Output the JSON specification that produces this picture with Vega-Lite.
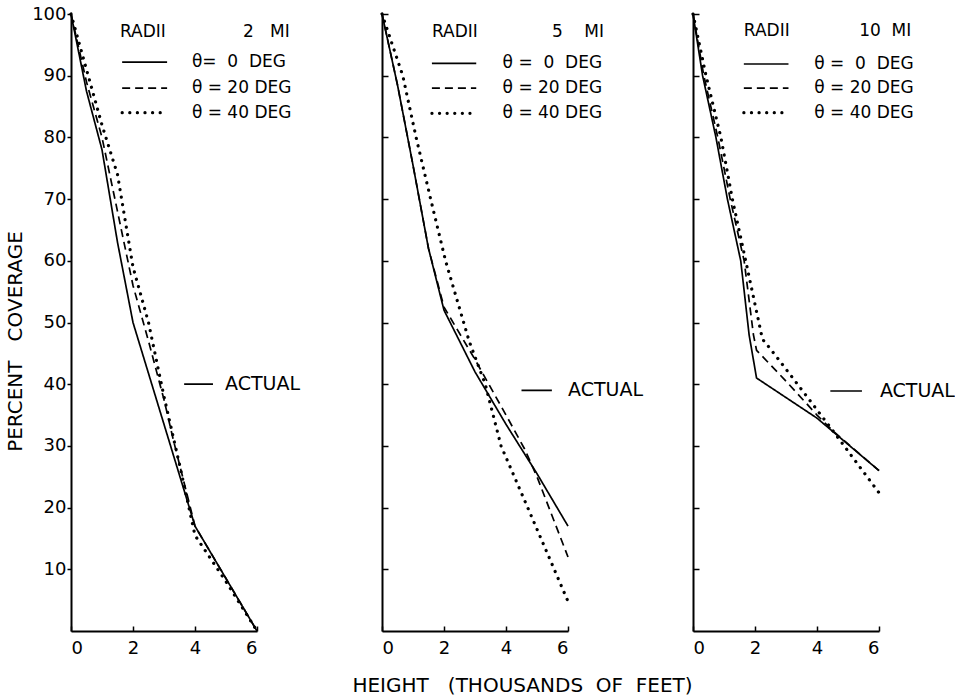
{
  "$schema": "https://vega.github.io/schema/vega-lite/v6.json",
  "padding": {"left": 5, "top": 5, "right": 0, "bottom": 5},
  "background": "white",
  "config": {
    "view": {"stroke": null},
    "font": "DejaVu Sans",
    "axis": {
      "domainColor": "black", "domainWidth": 2, "tickColor": "black", "tickWidth": 1.5,
      "labelColor": "black", "titleColor": "black", "grid": false,
      "labelFont": "DejaVu Sans", "titleFont": "DejaVu Sans", "titleFontWeight": "normal",
      "labelFontSize": 18
    }
  },
  "datasets": {
    "curves": [
      {"panel": 1, "s": "0", "d": 0, "v": 100}, {"panel": 1, "s": "0", "d": 0.5, "v": 87.5}, {"panel": 1, "s": "0", "d": 1, "v": 78}, {"panel": 1, "s": "0", "d": 1.5, "v": 63}, {"panel": 1, "s": "0", "d": 2, "v": 50}, {"panel": 1, "s": "0", "d": 4, "v": 17}, {"panel": 1, "s": "0", "d": 6, "v": 0},
      {"panel": 1, "s": "20", "d": 0, "v": 100}, {"panel": 1, "s": "20", "d": 0.5, "v": 89}, {"panel": 1, "s": "20", "d": 1, "v": 80}, {"panel": 1, "s": "20", "d": 1.5, "v": 68}, {"panel": 1, "s": "20", "d": 2, "v": 56}, {"panel": 1, "s": "20", "d": 2.5, "v": 47}, {"panel": 1, "s": "20", "d": 3, "v": 37.5}, {"panel": 1, "s": "20", "d": 3.3, "v": 31}, {"panel": 1, "s": "20", "d": 4, "v": 17}, {"panel": 1, "s": "20", "d": 5, "v": 8.5}, {"panel": 1, "s": "20", "d": 6, "v": 0},
      {"panel": 1, "s": "40", "d": 0, "v": 100}, {"panel": 1, "s": "40", "d": 0.5, "v": 91}, {"panel": 1, "s": "40", "d": 1, "v": 82}, {"panel": 1, "s": "40", "d": 1.5, "v": 74}, {"panel": 1, "s": "40", "d": 2, "v": 59}, {"panel": 1, "s": "40", "d": 2.5, "v": 50}, {"panel": 1, "s": "40", "d": 3, "v": 38}, {"panel": 1, "s": "40", "d": 3.5, "v": 27}, {"panel": 1, "s": "40", "d": 4, "v": 15.5}, {"panel": 1, "s": "40", "d": 5, "v": 8}, {"panel": 1, "s": "40", "d": 6, "v": 0},
      {"panel": 2, "s": "0", "d": 0, "v": 100}, {"panel": 2, "s": "0", "d": 0.5, "v": 88.5}, {"panel": 2, "s": "0", "d": 1, "v": 75.5}, {"panel": 2, "s": "0", "d": 1.5, "v": 62}, {"panel": 2, "s": "0", "d": 2, "v": 52}, {"panel": 2, "s": "0", "d": 3, "v": 42}, {"panel": 2, "s": "0", "d": 4, "v": 33.5}, {"panel": 2, "s": "0", "d": 5, "v": 25.5}, {"panel": 2, "s": "0", "d": 6, "v": 17},
      {"panel": 2, "s": "20", "d": 0, "v": 100}, {"panel": 2, "s": "20", "d": 0.5, "v": 88.5}, {"panel": 2, "s": "20", "d": 1, "v": 75.5}, {"panel": 2, "s": "20", "d": 1.5, "v": 62}, {"panel": 2, "s": "20", "d": 2, "v": 52.5}, {"panel": 2, "s": "20", "d": 3, "v": 44}, {"panel": 2, "s": "20", "d": 4, "v": 35}, {"panel": 2, "s": "20", "d": 4.6, "v": 29.5}, {"panel": 2, "s": "20", "d": 5, "v": 25}, {"panel": 2, "s": "20", "d": 6, "v": 12},
      {"panel": 2, "s": "40", "d": 0, "v": 100}, {"panel": 2, "s": "40", "d": 0.67, "v": 90}, {"panel": 2, "s": "40", "d": 1.1, "v": 80}, {"panel": 2, "s": "40", "d": 1.57, "v": 70}, {"panel": 2, "s": "40", "d": 2.05, "v": 60}, {"panel": 2, "s": "40", "d": 2.81, "v": 47}, {"panel": 2, "s": "40", "d": 3.33, "v": 40}, {"panel": 2, "s": "40", "d": 3.84, "v": 30}, {"panel": 2, "s": "40", "d": 4.7, "v": 20}, {"panel": 2, "s": "40", "d": 6, "v": 4.8},
      {"panel": 3, "s": "0", "d": 0, "v": 100}, {"panel": 3, "s": "0", "d": 0.31, "v": 90}, {"panel": 3, "s": "0", "d": 0.74, "v": 80}, {"panel": 3, "s": "0", "d": 1.11, "v": 70}, {"panel": 3, "s": "0", "d": 1.54, "v": 60}, {"panel": 3, "s": "0", "d": 1.81, "v": 48}, {"panel": 3, "s": "0", "d": 2.05, "v": 41}, {"panel": 3, "s": "0", "d": 4, "v": 34.5}, {"panel": 3, "s": "0", "d": 6, "v": 26},
      {"panel": 3, "s": "20", "d": 0, "v": 100}, {"panel": 3, "s": "20", "d": 0.35, "v": 90}, {"panel": 3, "s": "20", "d": 0.8, "v": 80}, {"panel": 3, "s": "20", "d": 1.2, "v": 70}, {"panel": 3, "s": "20", "d": 1.65, "v": 60}, {"panel": 3, "s": "20", "d": 1.95, "v": 48}, {"panel": 3, "s": "20", "d": 2.05, "v": 45.5}, {"panel": 3, "s": "20", "d": 3, "v": 40.5}, {"panel": 3, "s": "20", "d": 4, "v": 35}, {"panel": 3, "s": "20", "d": 4.5, "v": 32.5}, {"panel": 3, "s": "20", "d": 6, "v": 26},
      {"panel": 3, "s": "40", "d": 0, "v": 100}, {"panel": 3, "s": "40", "d": 0.42, "v": 90}, {"panel": 3, "s": "40", "d": 0.9, "v": 80}, {"panel": 3, "s": "40", "d": 1.27, "v": 70}, {"panel": 3, "s": "40", "d": 1.7, "v": 60}, {"panel": 3, "s": "40", "d": 2.24, "v": 47.3}, {"panel": 3, "s": "40", "d": 2.5, "v": 45.7}, {"panel": 3, "s": "40", "d": 3.25, "v": 40.8}, {"panel": 3, "s": "40", "d": 4.52, "v": 32.4}, {"panel": 3, "s": "40", "d": 6, "v": 22.4}
    ],
    "keys": [
      {"panel": 1, "s": "0", "x1": 1.65, "x2": 3.1, "y": 92.2},
      {"panel": 1, "s": "20", "x1": 1.65, "x2": 3.1, "y": 88.0},
      {"panel": 1, "s": "40", "x1": 1.65, "x2": 3.1, "y": 84.0},
      {"panel": 1, "s": "0", "x1": 3.65, "x2": 4.58, "y": 40.0},
      {"panel": 2, "s": "0", "x1": 1.61, "x2": 3.04, "y": 92.0},
      {"panel": 2, "s": "20", "x1": 1.61, "x2": 3.04, "y": 88.0},
      {"panel": 2, "s": "40", "x1": 1.61, "x2": 3.04, "y": 83.9},
      {"panel": 2, "s": "0", "x1": 4.5, "x2": 5.48, "y": 39.0},
      {"panel": 3, "s": "0", "x1": 1.64, "x2": 3.08, "y": 91.9},
      {"panel": 3, "s": "20", "x1": 1.64, "x2": 3.08, "y": 88.0},
      {"panel": 3, "s": "40", "x1": 1.64, "x2": 3.08, "y": 84.0},
      {"panel": 3, "s": "0", "x1": 4.43, "x2": 5.45, "y": 38.9}
    ],
    "labels": [
      {"panel": 1, "x": 1.58, "y": 97.1, "t": "RADII"},
      {"panel": 1, "x": 5.55, "y": 97.1, "t": "2\u00a0\u00a0\u00a0MI"},
      {"panel": 1, "x": 3.9, "y": 92.2, "t": "θ=\u00a0\u00a00\u00a0\u00a0DEG"},
      {"panel": 1, "x": 3.9, "y": 88.0, "t": "θ\u00a0=\u00a020\u00a0DEG"},
      {"panel": 1, "x": 3.9, "y": 84.0, "t": "θ\u00a0=\u00a040\u00a0DEG"},
      {"panel": 2, "x": 1.61, "y": 97.1, "t": "RADII"},
      {"panel": 2, "x": 5.48, "y": 97.1, "t": "5\u00a0\u00a0\u00a0\u00a0MI"},
      {"panel": 2, "x": 3.89, "y": 92.0, "t": "θ\u00a0=\u00a0\u00a00\u00a0\u00a0DEG"},
      {"panel": 2, "x": 3.89, "y": 88.0, "t": "θ\u00a0=\u00a020\u00a0DEG"},
      {"panel": 2, "x": 3.89, "y": 83.9, "t": "θ\u00a0=\u00a040\u00a0DEG"},
      {"panel": 3, "x": 1.64, "y": 97.2, "t": "RADII"},
      {"panel": 3, "x": 5.36, "y": 97.2, "t": "10\u00a0\u00a0MI"},
      {"panel": 3, "x": 3.91, "y": 91.9, "t": "θ\u00a0=\u00a0\u00a00\u00a0\u00a0DEG"},
      {"panel": 3, "x": 3.91, "y": 88.0, "t": "θ\u00a0=\u00a020\u00a0DEG"},
      {"panel": 3, "x": 3.91, "y": 84.0, "t": "θ\u00a0=\u00a040\u00a0DEG"}
    ],
    "actual": [
      {"panel": 1, "x": 4.97, "y": 40.0, "t": "ACTUAL"},
      {"panel": 2, "x": 6.0, "y": 39.0, "t": "ACTUAL"},
      {"panel": 3, "x": 6.03, "y": 38.9, "t": "ACTUAL"}
    ]
  },
  "spacing": 125,
  "bounds": "flush",
  "hconcat": [
    {
      "width": 186, "height": 617,
      "encoding": {
        "x": {"type": "quantitative", "scale": {"domain": [0, 6], "nice": false},
              "axis": {"values": [0, 2, 4, 6], "tickSize": -5, "labelPadding": 13, "title": null}},
        "y": {"type": "quantitative", "scale": {"domain": [0, 100], "nice": false},
              "axis": {"values": [10, 20, 30, 40, 50, 60, 70, 80, 90, 100], "tickSize": 4, "labelPadding": 1,
                       "title": "PERCENT\u00a0\u00a0\u00a0COVERAGE", "titleFontSize": 20, "titleY": 327, "titlePadding": 6}}
      },
      "layer": [
        {
          "data": {"name": "curves"}, "transform": [{"filter": "datum.panel == 1 && datum.s != '40'"}],
          "mark": {"type": "line", "color": "black", "strokeWidth": 1.7},
          "encoding": {
            "x": {"field": "d"}, "y": {"field": "v"},
            "strokeDash": {"field": "s", "type": "nominal", "scale": {"domain": ["0", "20", "40"], "range": [[1, 0], [8, 5], [0.1, 7.5]]}, "legend": null}
          }
        },
        {
          "data": {"name": "curves"}, "transform": [{"filter": "datum.panel == 1 && datum.s == '40'"}],
          "mark": {"type": "line", "color": "black", "strokeWidth": 3.2, "strokeCap": "round"},
          "encoding": {
            "x": {"field": "d"}, "y": {"field": "v"},
            "strokeDash": {"field": "s", "type": "nominal", "legend": null}
          }
        },
        {
          "data": {"name": "keys"}, "transform": [{"filter": "datum.panel == 1 && datum.s != '40'"}],
          "mark": {"type": "rule", "color": "black", "strokeWidth": 1.7},
          "encoding": {
            "x": {"field": "x1"}, "x2": {"field": "x2"}, "y": {"field": "y"},
            "strokeDash": {"field": "s", "type": "nominal", "legend": null}
          }
        },
        {
          "data": {"name": "keys"}, "transform": [{"filter": "datum.panel == 1 && datum.s == '40'"}],
          "mark": {"type": "rule", "color": "black", "strokeWidth": 3.2, "strokeCap": "round"},
          "encoding": {
            "x": {"field": "x1"}, "x2": {"field": "x2"}, "y": {"field": "y"},
            "strokeDash": {"field": "s", "type": "nominal", "legend": null}
          }
        },
        {
          "data": {"name": "labels"}, "transform": [{"filter": "datum.panel == 1"}],
          "mark": {"type": "text", "align": "left", "baseline": "middle", "fontSize": 17, "color": "black", "clip": false},
          "encoding": {"x": {"field": "x"}, "y": {"field": "y"}, "text": {"field": "t"}}
        },
        {
          "data": {"name": "actual"}, "transform": [{"filter": "datum.panel == 1"}],
          "mark": {"type": "text", "align": "left", "baseline": "middle", "fontSize": 19, "color": "black", "clip": false},
          "encoding": {"x": {"field": "x"}, "y": {"field": "y"}, "text": {"field": "t"}}
        }
      ]
    },
    {
      "width": 186, "height": 617,
      "encoding": {
        "x": {"type": "quantitative", "scale": {"domain": [0, 6], "nice": false},
              "axis": {"values": [0, 2, 4, 6], "tickSize": -5, "labelPadding": 13,
                       "title": "HEIGHT\u00a0\u00a0\u00a0(THOUSANDS\u00a0\u00a0OF\u00a0\u00a0FEET)", "titleFontSize": 20, "titleX": 140, "titlePadding": 18}},
        "y": {"type": "quantitative", "scale": {"domain": [0, 100], "nice": false},
              "axis": {"values": [10, 20, 30, 40, 50, 60, 70, 80, 90, 100], "tickSize": -6, "labels": false, "title": null}}
      },
      "layer": [
        {
          "data": {"name": "curves"}, "transform": [{"filter": "datum.panel == 2 && datum.s != '40'"}],
          "mark": {"type": "line", "color": "black", "strokeWidth": 1.7},
          "encoding": {
            "x": {"field": "d"}, "y": {"field": "v"},
            "strokeDash": {"field": "s", "type": "nominal", "scale": {"domain": ["0", "20", "40"], "range": [[1, 0], [8, 5], [0.1, 7.5]]}, "legend": null}
          }
        },
        {
          "data": {"name": "curves"}, "transform": [{"filter": "datum.panel == 2 && datum.s == '40'"}],
          "mark": {"type": "line", "color": "black", "strokeWidth": 3.2, "strokeCap": "round"},
          "encoding": {
            "x": {"field": "d"}, "y": {"field": "v"},
            "strokeDash": {"field": "s", "type": "nominal", "legend": null}
          }
        },
        {
          "data": {"name": "keys"}, "transform": [{"filter": "datum.panel == 2 && datum.s != '40'"}],
          "mark": {"type": "rule", "color": "black", "strokeWidth": 1.7},
          "encoding": {
            "x": {"field": "x1"}, "x2": {"field": "x2"}, "y": {"field": "y"},
            "strokeDash": {"field": "s", "type": "nominal", "legend": null}
          }
        },
        {
          "data": {"name": "keys"}, "transform": [{"filter": "datum.panel == 2 && datum.s == '40'"}],
          "mark": {"type": "rule", "color": "black", "strokeWidth": 3.2, "strokeCap": "round"},
          "encoding": {
            "x": {"field": "x1"}, "x2": {"field": "x2"}, "y": {"field": "y"},
            "strokeDash": {"field": "s", "type": "nominal", "legend": null}
          }
        },
        {
          "data": {"name": "labels"}, "transform": [{"filter": "datum.panel == 2"}],
          "mark": {"type": "text", "align": "left", "baseline": "middle", "fontSize": 17, "color": "black", "clip": false},
          "encoding": {"x": {"field": "x"}, "y": {"field": "y"}, "text": {"field": "t"}}
        },
        {
          "data": {"name": "actual"}, "transform": [{"filter": "datum.panel == 2"}],
          "mark": {"type": "text", "align": "left", "baseline": "middle", "fontSize": 19, "color": "black", "clip": false},
          "encoding": {"x": {"field": "x"}, "y": {"field": "y"}, "text": {"field": "t"}}
        }
      ]
    },
    {
      "width": 186, "height": 617,
      "encoding": {
        "x": {"type": "quantitative", "scale": {"domain": [0, 6], "nice": false},
              "axis": {"values": [0, 2, 4, 6], "tickSize": -5, "labelPadding": 13, "title": null}},
        "y": {"type": "quantitative", "scale": {"domain": [0, 100], "nice": false},
              "axis": {"values": [10, 20, 30, 40, 50, 60, 70, 80, 90, 100], "tickSize": -6, "labels": false, "title": null}}
      },
      "layer": [
        {
          "data": {"name": "curves"}, "transform": [{"filter": "datum.panel == 3 && datum.s != '40'"}],
          "mark": {"type": "line", "color": "black", "strokeWidth": 1.7},
          "encoding": {
            "x": {"field": "d"}, "y": {"field": "v"},
            "strokeDash": {"field": "s", "type": "nominal", "scale": {"domain": ["0", "20", "40"], "range": [[1, 0], [8, 5], [0.1, 7.5]]}, "legend": null}
          }
        },
        {
          "data": {"name": "curves"}, "transform": [{"filter": "datum.panel == 3 && datum.s == '40'"}],
          "mark": {"type": "line", "color": "black", "strokeWidth": 3.2, "strokeCap": "round"},
          "encoding": {
            "x": {"field": "d"}, "y": {"field": "v"},
            "strokeDash": {"field": "s", "type": "nominal", "legend": null}
          }
        },
        {
          "data": {"name": "keys"}, "transform": [{"filter": "datum.panel == 3 && datum.s != '40'"}],
          "mark": {"type": "rule", "color": "black", "strokeWidth": 1.7},
          "encoding": {
            "x": {"field": "x1"}, "x2": {"field": "x2"}, "y": {"field": "y"},
            "strokeDash": {"field": "s", "type": "nominal", "legend": null}
          }
        },
        {
          "data": {"name": "keys"}, "transform": [{"filter": "datum.panel == 3 && datum.s == '40'"}],
          "mark": {"type": "rule", "color": "black", "strokeWidth": 3.2, "strokeCap": "round"},
          "encoding": {
            "x": {"field": "x1"}, "x2": {"field": "x2"}, "y": {"field": "y"},
            "strokeDash": {"field": "s", "type": "nominal", "legend": null}
          }
        },
        {
          "data": {"name": "labels"}, "transform": [{"filter": "datum.panel == 3"}],
          "mark": {"type": "text", "align": "left", "baseline": "middle", "fontSize": 17, "color": "black", "clip": false},
          "encoding": {"x": {"field": "x"}, "y": {"field": "y"}, "text": {"field": "t"}}
        },
        {
          "data": {"name": "actual"}, "transform": [{"filter": "datum.panel == 3"}],
          "mark": {"type": "text", "align": "left", "baseline": "middle", "fontSize": 19, "color": "black", "clip": false},
          "encoding": {"x": {"field": "x"}, "y": {"field": "y"}, "text": {"field": "t"}}
        }
      ]
    }
  ]
}
